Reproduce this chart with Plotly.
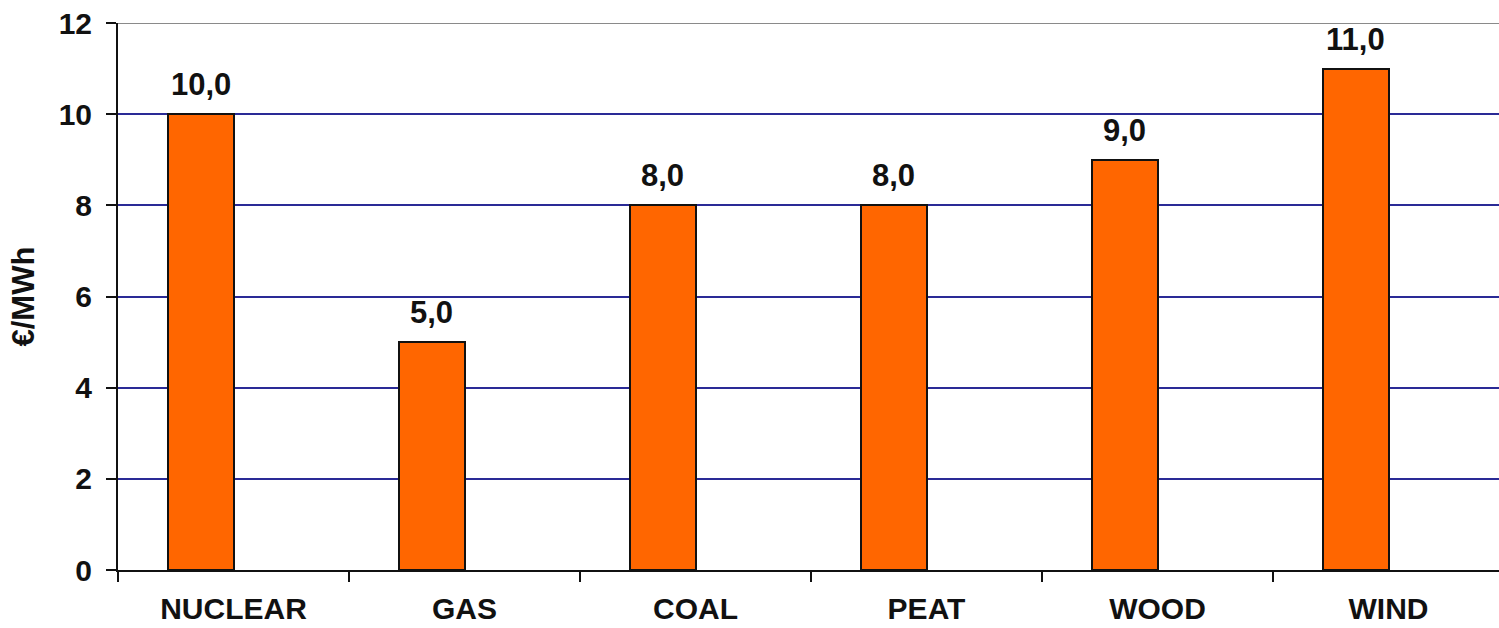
import plotly.graph_objects as go

# Cost per MWh by generation source
categories = ["NUCLEAR", "GAS", "COAL", "PEAT", "WOOD", "WIND"]
values = [10.0, 5.0, 8.0, 8.0, 9.0, 11.0]
y_ticks = [0, 2, 4, 6, 8, 10, 12]
y_title = "€/MWh"

FONT = "Liberation Sans, Arial, sans-serif"
BAR_W = 1 / 3.5          # clustered bar width (two slots, 150% gap)
BAR_OFFSET = -BAR_W      # bar sits in the left slot of each category

labels = [f"{v:.1f}".replace(".", ",") for v in values]

fig = go.Figure()
fig.add_trace(go.Bar(
    x=categories,
    y=values,
    width=BAR_W,
    offset=BAR_OFFSET,
    marker=dict(color="#FF6600", line=dict(color="#111111", width=2)),
    hoverinfo="x+y",
))

# value labels above each bar
for i, (v, t) in enumerate(zip(values, labels)):
    fig.add_annotation(
        x=i + BAR_OFFSET + BAR_W / 2, y=v, xref="x", yref="y",
        text=f"<b>{t}</b>", showarrow=False,
        yanchor="bottom", yshift=10,
        font=dict(family=FONT, size=31, color="#111111"),
    )

# axis title
fig.add_annotation(
    x=0, y=0.5, xref="paper", yref="paper", xshift=-95,
    text=f"<b>{y_title}</b>", textangle=-90, showarrow=False,
    xanchor="center", yanchor="middle",
    font=dict(family=FONT, size=31, color="#111111"),
)

# plot-area top border
fig.add_shape(type="line", xref="paper", yref="y", x0=0, x1=1, y0=12, y1=12,
              line=dict(color="#8a8a8a", width=2))

fig.update_layout(
    width=1499, height=628,
    margin=dict(l=118, r=0, t=23, b=58),
    paper_bgcolor="white", plot_bgcolor="white",
    showlegend=False,
    bargap=0,
    font=dict(family=FONT, color="#111111"),
)
fig.update_xaxes(
    type="category",
    range=[-0.5, -0.5 + 1381 / 231],
    tickson="boundaries",
    ticks="outside", ticklen=10, tickwidth=2, tickcolor="#111111",
    showline=True, linecolor="#111111", linewidth=2,
    showgrid=False,
    automargin=False,
    ticklabelstandoff=11,
    tickfont=dict(family=FONT, size=30, color="#111111", weight="bold"),
)
fig.update_yaxes(
    range=[0, 12],
    tickvals=y_ticks,
    ticks="outside", ticklen=10, tickwidth=2, tickcolor="#111111",
    showline=True, linecolor="#111111", linewidth=2,
    showgrid=True, gridcolor="#2a2a96", gridwidth=1.5,
    zeroline=False,
    automargin=False,
    ticklabelstandoff=8,
    tickfont=dict(family=FONT, size=30, color="#111111", weight="bold"),
)

fig.write_html("out.html")
